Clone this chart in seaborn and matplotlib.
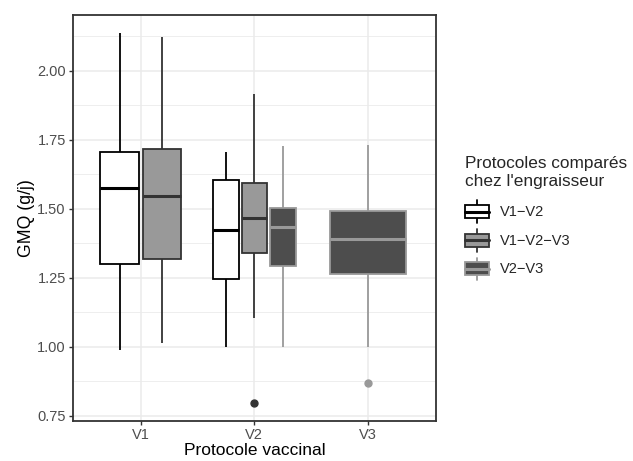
import numpy as np
import pandas as pd
import matplotlib
matplotlib.use("Agg")
import matplotlib.pyplot as plt
import seaborn as sns
from matplotlib.patches import Patch, Rectangle
from matplotlib.lines import Line2D
from matplotlib.legend_handler import HandlerBase

# values (one entry per box)
categories = ["V1", "V2", "V3"]
protocols = ["V1−V2", "V1−V2−V3", "V2−V3"]
box_vaccin = ["V1", "V1", "V2", "V2", "V2", "V3"]
box_protocole = ["V1−V2", "V1−V2−V3", "V1−V2", "V1−V2−V3", "V2−V3", "V2−V3"]
whisker_low = [0.988, 1.013, 0.998, 1.103, 1.000, 0.999]
q1 = [1.300, 1.319, 1.244, 1.340, 1.292, 1.264]
median = [1.575, 1.545, 1.422, 1.467, 1.433, 1.391]
q3 = [1.707, 1.717, 1.604, 1.595, 1.504, 1.493]
whisker_high = [2.135, 2.121, 1.704, 1.915, 1.728, 1.730]
outliers = [[], [], [], [0.798], [], [0.868]]
y_ticks = [0.75, 1.00, 1.25, 1.50, 1.75, 2.00]

fills = {"V1−V2": "white", "V1−V2−V3": "#999999", "V2−V3": "#4D4D4D"}
edges = {"V1−V2": "black", "V1−V2−V3": "#333333", "V2−V3": "#999999"}


def box_points(lo, a, m, b, hi, out):
    """Small sample whose quartiles / whiskers give the summary above."""
    if not out:
        return [lo, a, m, b, hi]
    return out + [lo, a, a, m, b, b, hi, hi]


class BoxKeyHandler(HandlerBase):
    def create_artists(self, legend, orig_handle, xdescent, ydescent,
                       width, height, fontsize, trans):
        fc = orig_handle.get_facecolor()
        ec = orig_handle.get_edgecolor()
        x0, y0 = -xdescent, -ydescent
        cx = x0 + width / 2
        wlo = Line2D([cx, cx], [y0, y0 + 0.22 * height], color=ec, lw=1.3, transform=trans)
        whi = Line2D([cx, cx], [y0 + 0.78 * height, y0 + height], color=ec, lw=1.3, transform=trans)
        rect = Rectangle((x0, y0 + 0.22 * height), width, 0.56 * height,
                         facecolor=fc, edgecolor=ec, lw=1.3, transform=trans)
        med = Line2D([x0, x0 + width], [y0 + 0.5 * height] * 2, color=ec, lw=2.2, transform=trans)
        return [wlo, whi, rect, med]


sns.set_style("white")
plt.rcParams["font.family"] = ["Liberation Sans", "DejaVu Sans"]

fig = plt.figure(figsize=(6.33, 4.61), dpi=100)
ax = fig.add_axes([72.7 / 633, 1 - 421 / 461, (436 - 72.7) / 633, (421 - 15) / 461])

rows = []
for i in range(len(box_vaccin)):
    pts = box_points(whisker_low[i], q1[i], median[i], q3[i], whisker_high[i], outliers[i])
    for v in pts:
        rows.append({"vaccin": box_vaccin[i], "protocole": box_protocole[i], "GMQ": v})
df = pd.DataFrame(rows)

# dodge like ggplot: total width 0.75 split among boxes present, 10% padding
for cat_i, cat in enumerate(categories):
    sub = df[df["vaccin"] == cat]
    present = [p for p in protocols if p in sub["protocole"].unique()]
    k = len(present)
    slot = 0.75 / k
    for j, prot in enumerate(present):
        vals = sub.loc[sub["protocole"] == prot, "GMQ"].values
        pos = (cat_i + 1) - 0.375 + slot * (j + 0.5)
        sns.boxplot(x=np.full(len(vals), pos), y=vals, native_scale=True,
                    width=slot * 0.9, color=fills[prot], linecolor=edges[prot],
                    saturation=1, linewidth=1.3, showcaps=False,
                    medianprops=dict(linewidth=2.2, color=edges[prot]),
                    flierprops=dict(marker="o", markersize=5,
                                    markerfacecolor=edges[prot],
                                    markeredgecolor=edges[prot]),
                    ax=ax)

ax.set_xlim(0.4, 3.6)
ax.set_ylim(0.731, 2.202)
ax.set_xticks([1, 2, 3], categories)
ax.set_yticks(y_ticks, [f"{t:.2f}" for t in y_ticks])
ax.set_yticks(np.arange(0.875, 2.2, 0.25), minor=True)
ax.set_axisbelow(True)
ax.grid(True, which="major", color="#EBEBEB", lw=1.1)
ax.grid(True, which="minor", axis="y", color="#EBEBEB", lw=0.6)
for s in ax.spines.values():
    s.set_color("#333333")
    s.set_linewidth(1.3)
ax.tick_params(axis="both", which="major", length=3, width=1, color="#333333",
               labelcolor="#4D4D4D", labelsize=10.5, pad=2, left=True, bottom=True)
ax.tick_params(axis="both", which="minor", length=0)

ax.set_xlabel("Protocole vaccinal", fontsize=12.5, color="black", labelpad=1)
ax.set_ylabel("GMQ (g/j)", fontsize=12.7, color="black", labelpad=1.5)

handles = [Patch(facecolor=fills[p], edgecolor=edges[p]) for p in protocols]
leg = fig.legend(handles, protocols, title="Protocoles comparés\nchez l'engraisseur",
                 loc="upper left", bbox_to_anchor=(458 / 633, 1 - 149 / 461),
                 frameon=False, borderpad=0, fontsize=10.5, title_fontsize=12.4,
                 handlelength=1.65, handleheight=2.0, labelspacing=0.41,
                 handletextpad=0.7, alignment="left",
                 handler_map={Patch: BoxKeyHandler()})
# a bit more room between the legend title and the keys
leg._legend_box.sep = 8.5

fig.savefig("out.png", dpi=100)
